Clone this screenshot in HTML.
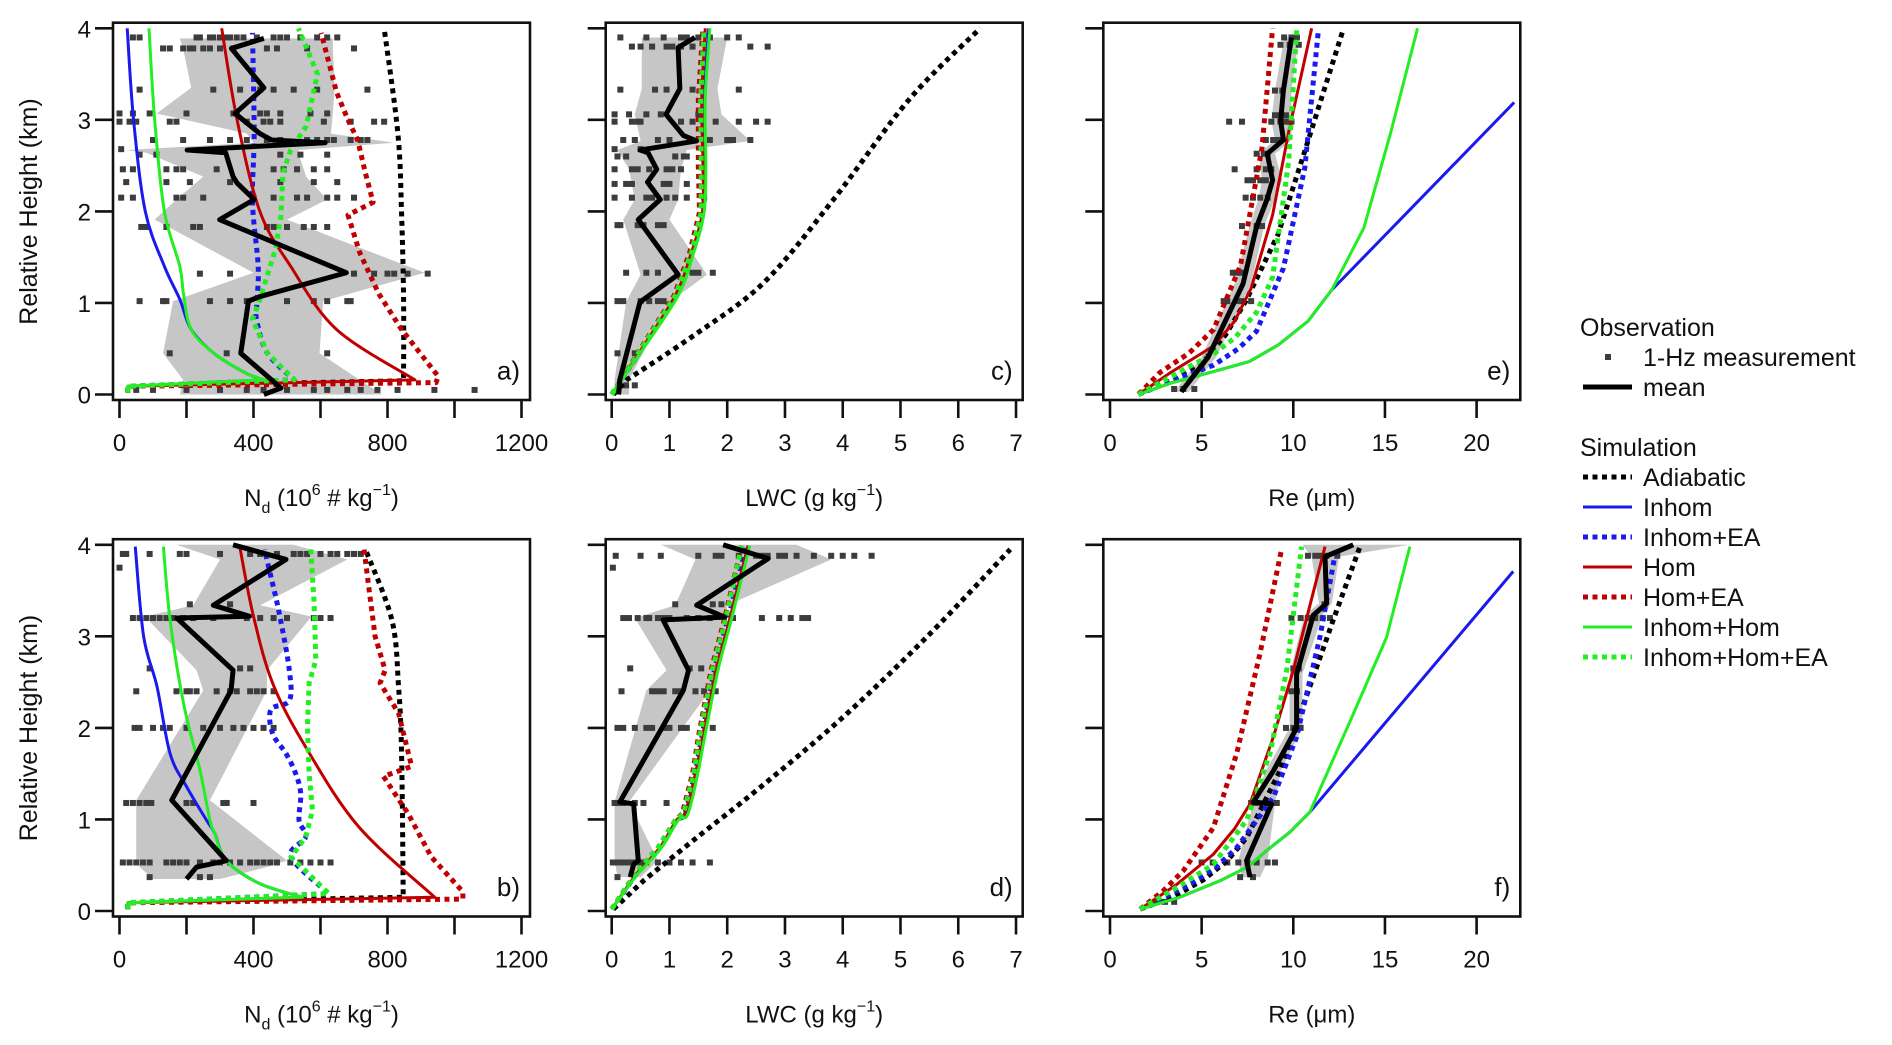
<!DOCTYPE html>
<html><head><meta charset="utf-8"><style>
html,body{margin:0;padding:0;background:#fff;}
svg{display:block;font-family:"Liberation Sans",Arial,sans-serif;}
</style></head><body>
<svg id="fig" width="1892" height="1045" viewBox="0 0 1892 1045" xmlns="http://www.w3.org/2000/svg"></svg>
<script>
// ---------- DATA (value, km) ----------
const aAdiabatic=[[25,0.02],[25,0.09],[848,0.15],[848,1.04],[842,1.98],[831,2.85],[790,4]];
const aInhom=[[25,0.02],[25,0.09],[431,0.16],[374,0.24],[282,0.45],[214,0.71],[180,1.04],[134,1.4],[77,2],[42,3],[23,4]];
const aInhomEA=[[25,0.02],[25,0.09],[522,0.16],[442,0.45],[410,0.8],[410,1.0],[414,1.4],[397,2.1],[402,2.85],[397,3.95]];
const aHom=[[25,0.02],[25,0.09],[882,0.16],[648,0.71],[511,1.4],[419,2],[351,3],[305,4]];
const aHomEA=[[25,0.02],[25,0.09],[945,0.13],[951,0.2],[842,0.71],[774,1.1],[717,1.55],[682,1.96],[757,2.1],[734,2.42],[711,2.78],[682,3],[648,3.3],[602,3.95]];
const aInhomHom=[[25,0.02],[25,0.09],[431,0.16],[374,0.24],[282,0.45],[214,0.71],[191,1.1],[180,1.4],[134,2],[105,3],[88,4]];
const aInhomHomEA=[[25,0.02],[25,0.09],[522,0.16],[442,0.45],[397,0.82],[419,1.04],[465,1.58],[482,1.95],[488,2.42],[511,2.67],[557,2.93],[591,3.5],[534,4]];
const aMean=[[431,0],[482,0.07],[454,0.16],[362,0.45],[385,1.02],[419,1.07],[677,1.33],[299,1.91],[402,2.13],[351,2.31],[339,2.38],[317,2.64],[202,2.67],[614,2.75],[454,2.78],[419,2.85],[345,3.07],[431,3.35],[334,3.78],[431,3.89]];
const aShadeKm=[0,0.16,0.45,1.02,1.33,1.91,2.13,2.38,2.64,2.67,2.75,2.85,3.07,3.35,3.78,3.89];
const aShadeLo=[180,190,130,160,400,105,170,250,80,20,400,380,111,214,190,180];
const aShadeHi=[785,717,597,608,911,500,620,557,534,534,819,631,637,642,637,637];
const aScatKm=[3.9,3.78,3.33,3.07,2.98,2.78,2.68,2.62,2.46,2.32,2.15,1.83,1.32,1.02,0.45,0.05];
const aScatVals=[[40,60,230,240,270,280,300,320,330,350,370,410,460,480,500,540,590,620,650],[130,150,190,210,220,250,270,300,340,440,470,560,700],[60,280,360,420,460,520,590,740],[0,40,90,200,340,350,420,440,480,570,620],[0,30,50,150,170,380,430,450,480,610,690,760,790],[100,190,270,330,380,440,480,560,590,620,640,690,720,740],[5],[60,110,480,540,620],[10,40,140,170,190,290,460,490,530,580,620],[20,140,210,330,480,580,650],[5,40,170,190,250,400,460,530,560,620,650,700],[65,80,140,220,240,440,460,500,550,580,620],[240,330,700,760,800,820,860,920],[60,130,140,270,330,380,500,580,620,680,690],[150,320,620],[50,100,200,300,380,430,500,580,620,680,720,770,830,940,1060]];

const bAdiabatic=[[25,0.02],[25,0.09],[847,0.15],[842,1.72],[833,2.45],[813,3.18],[734,3.95]];
const bInhom=[[25,0.02],[25,0.09],[546,0.15],[418,0.3],[319,0.55],[284,0.85],[260,0.99],[200,1.36],[151,1.72],[112,2.45],[72,3],[47,3.98]];
const bInhomEA=[[25,0.02],[25,0.09],[625,0.19],[512,0.59],[556,0.81],[536,0.99],[541,1.28],[526,1.5],[497,1.72],[457,1.94],[452,2.2],[507,2.3],[507,2.63],[477,3.25],[447,3.73],[433,3.95]];
const bHom=[[25,0.02],[25,0.09],[941,0.15],[714,0.92],[556,1.79],[457,2.49],[398,3.25],[359,3.98]];
const bHomEA=[[25,0.02],[25,0.09],[1025,0.13],[1025,0.21],[931,0.59],[862,1.06],[788,1.47],[872,1.58],[833,2.16],[778,2.49],[793,2.63],[763,3.0],[744,3.54],[729,3.98]];
const bInhomHom=[[25,0.02],[25,0.09],[546,0.15],[418,0.3],[319,0.55],[284,0.85],[270,0.99],[240,1.54],[191,2.27],[151,3.18],[131,3.98]];
const bInhomHomEA=[[25,0.02],[25,0.09],[625,0.19],[512,0.59],[556,0.81],[576,1.1],[566,1.5],[561,2.01],[566,2.49],[586,2.74],[581,3.36],[571,3.95]];
const bMean=[[200,0.35],[230,0.48],[319,0.55],[156,1.21],[333,2.41],[339,2.63],[171,3.2],[388,3.22],[280,3.34],[497,3.84],[339,4]];
const bShadeKm=[0.35,0.48,0.55,1.21,2.41,2.63,3.2,3.22,3.34,3.84,4];
const bShadeLo=[100,60,50,50,250,230,80,80,220,300,170];
const bShadeHi=[300,440,500,270,440,440,570,570,420,680,520];
const bScatKm=[3.9,3.75,3.35,3.2,2.65,2.4,2.0,1.18,0.53,0.37];
const bScatVals=[[10,20,90,180,200,300,390,420,470,520,540,560,600,630,650,680,700,720],[0],[210,330],[40,60,80,100,120,140,160,190,220,280,380,420,460,500,580,600,630],[90,360,390],[50,170,200,210,230,290,330,350,390,410,430,460],[45,60,100,130,150,200,250,300,340,370,400,430,460],[20,40,60,80,95,200,220,310,320,400],[10,30,50,70,90,140,160,180,200,240,280,300,330,360,390,410,430,450,470,510,540,570,600,630],[90,240,270]];

const cAdiabatic=[[0.03,0],[0.26,0.16],[1.41,0.64],[2.63,1.22],[3.84,2.13],[5.16,3.23],[6.38,4]];
const cInhom=[[0,0],[0.5,0.46],[1.13,1.08],[1.41,1.55],[1.59,1.99],[1.62,2.5],[1.6,3.23],[1.68,4]];
const cInhomEA=[[0,0],[0.48,0.46],[1.1,1.08],[1.38,1.55],[1.56,1.99],[1.58,2.5],[1.57,3.23],[1.64,4]];
const cHom=[[0,0],[0.48,0.46],[1.1,1.08],[1.38,1.55],[1.57,1.99],[1.58,2.5],[1.56,3.23],[1.62,4]];
const cHomEA=[[0,0],[0.46,0.46],[1.08,1.08],[1.35,1.55],[1.52,1.99],[1.5,2.5],[1.5,3.23],[1.58,4]];
const cInhomHom=[[0,0],[0.5,0.46],[1.15,1.08],[1.42,1.55],[1.6,1.99],[1.63,2.5],[1.62,3.23],[1.7,4]];
const cInhomHomEA=[[0,0],[0.47,0.46],[1.1,1.08],[1.38,1.55],[1.55,1.99],[1.55,2.5],[1.54,3.23],[1.6,4]];
const cMean=[[0.12,0],[0.14,0.16],[0.49,1.01],[1.15,1.31],[0.46,1.91],[0.84,2.13],[0.62,2.32],[0.78,2.46],[0.63,2.64],[0.49,2.67],[1.47,2.77],[1.24,2.83],[0.94,3.06],[1.18,3.34],[1.15,3.79],[1.44,3.9]];
const cShadeKm=[0,0.16,1.01,1.31,1.91,2.13,2.46,2.67,2.77,3.06,3.34,3.9];
const cShadeLo=[0.05,0.05,0.25,0.5,0.2,0.4,0.3,0.1,0.5,0.4,0.52,0.52];
const cShadeHi=[0.3,0.3,1.0,1.65,1.0,1.15,1.2,1.3,2.4,1.9,1.83,2.0];
const cScatKm=[3.9,3.8,3.33,3.06,2.98,2.78,2.68,2.6,2.46,2.3,2.15,1.85,1.33,1.02,0.45,0.1];
const cScatVals=[[0.15,0.6,0.9,1.2,1.3,1.5,1.7,2.0,2.2],[0.35,0.5,0.7,0.95,1.05,1.2,1.4,2.4,2.7],[0.15,0.75,0.95,1.4,2.2],[0.05,0.3,0.6,0.85,1.5],[0.05,0.35,0.45,0.5,1.2,1.4,1.8,2.2,2.5,2.7],[0.2,0.4,0.8,1.0,1.7,2.0,2.1,2.4],[0.05,0.5],[0.1,0.25,1.1,1.25,1.3],[0.05,0.35,0.45,0.65,0.95,1.05,1.2],[0.05,0.25,0.35,0.9,1.0,1.3],[0.05,0.35,0.6,0.7,0.95,1.1,1.3,1.6],[0.1,0.15,0.45,0.55,0.8,0.9],[0.25,0.6,0.8,1.4,1.5,1.75],[0.1,0.2,0.5,0.65,0.8,0.9],[0.1,0.4],[0.25,0.4]];

const dAdiabatic=[[0.03,0.02],[0.55,0.33],[1.41,0.77],[2.57,1.35],[4.01,2.12],[5.45,2.99],[6.9,3.95]];
const dInhom=[[0,0.02],[0.43,0.4],[0.84,0.69],[1.13,0.99],[1.3,1.06],[1.47,1.5],[1.59,1.9],[1.82,2.63],[2.05,3.18],[2.37,3.99]];
const dInhomEA=[[0,0.02],[0.42,0.4],[0.82,0.69],[1.11,0.99],[1.26,1.06],[1.44,1.5],[1.56,1.9],[1.78,2.63],[2.01,3.18],[2.33,3.99]];
const dHom=[[0,0.02],[0.42,0.4],[0.83,0.69],[1.12,0.99],[1.26,1.06],[1.45,1.5],[1.57,1.9],[1.8,2.63],[2.04,3.18],[2.36,3.99]];
const dHomEA=[[0,0.02],[0.4,0.4],[0.8,0.69],[1.1,0.99],[1.22,1.06],[1.4,1.5],[1.5,1.9],[1.72,2.63],[1.95,3.18],[2.25,3.99]];
const dInhomHom=[[0,0.02],[0.44,0.4],[0.86,0.69],[1.15,0.99],[1.32,1.06],[1.49,1.5],[1.61,1.9],[1.84,2.63],[2.07,3.18],[2.39,3.99]];
const dInhomHomEA=[[0,0.02],[0.4,0.4],[0.8,0.69],[1.1,0.99],[1.24,1.06],[1.42,1.5],[1.52,1.9],[1.74,2.63],[1.97,3.18],[2.25,3.99]];
const dMean=[[0.32,0.37],[0.38,0.51],[0.46,0.55],[0.38,1.17],[0.14,1.19],[1.24,2.41],[1.33,2.63],[0.89,3.18],[1.96,3.21],[1.47,3.34],[2.71,3.85],[1.93,4]];
const dShadeKm=[0.37,0.55,1.19,2.41,2.63,3.2,3.34,3.84,4];
const dShadeLo=[0.1,0.05,0.05,0.6,0.95,0.4,1.1,1.45,0.85];
const dShadeHi=[0.5,0.8,0.3,1.7,1.8,2.0,2.0,3.8,3.2];
const dScatKm=[3.88,3.75,3.35,3.2,2.65,2.4,2.0,1.18,0.53,0.37];
const dScatVals=[[0.07,0.5,0.85,1.5,1.8,1.9,2.2,2.5,2.6,2.7,2.9,3.0,3.2,3.5,3.8,4.0,4.2,4.5],[0.02],[1.1,1.75,1.9],[0.2,0.3,0.45,0.6,0.65,0.8,0.9,1.0,1.3,1.5,1.7,2.1,2.6,2.9,3.1,3.3,3.4],[0.32,1.35,1.55],[0.17,0.7,0.8,0.9,1.1,1.2,1.45,1.6,1.8],[0.1,0.2,0.4,0.6,0.7,0.9,1.0,1.2,1.3,1.75],[0.05,0.15,0.2,0.4,0.55,0.95],[0.02,0.1,0.2,0.3,0.4,0.5,0.6,0.8,1.0,1.2,1.4,1.7],[0.1]];

const eAdiabatic=[[1.55,0.01],[3.3,0.15],[5.07,0.36],[6.3,0.65],[7.41,1.02],[9.17,1.75],[10.63,2.66],[12.68,3.96]];
const eInhom=[[1.55,0],[3.4,0.13],[5.65,0.25],[7.6,0.36],[9.17,0.54],[10.8,0.8],[12.09,1.14],[22.05,3.19]];
const eInhomEA=[[1.55,0],[3.5,0.16],[5.65,0.32],[7.0,0.5],[7.99,0.69],[9.46,1.38],[10.63,2.48],[11.36,3.96]];
const eHom=[[1.55,0],[3.31,0.24],[5.65,0.53],[6.8,0.8],[7.7,1.16],[8.87,1.96],[9.75,2.87],[11.0,4]];
const eHomEA=[[1.55,0],[2.72,0.24],[4.3,0.45],[5.65,0.71],[7.12,1.41],[8.29,2.69],[8.87,4]];
const eInhomHom=[[1.55,0],[3.4,0.13],[5.65,0.25],[7.6,0.36],[9.17,0.54],[10.8,0.8],[12.09,1.14],[13.85,1.82],[15.3,2.85],[16.78,4]];
const eInhomHomEA=[[1.55,0],[4.19,0.29],[5.7,0.45],[6.82,0.62],[8.0,0.9],[8.87,1.28],[9.75,2.55],[10.19,4]];
const eMean=[[3.89,0.03],[5.36,0.41],[7.26,1.21],[7.99,1.83],[8.58,2.14],[8.87,2.34],[8.58,2.63],[9.46,2.78],[9.31,2.99],[9.46,3.32],[9.9,3.9]];
const eShadeKm=[0.03,0.41,1.21,1.83,2.14,2.34,2.63,2.78,2.99,3.32,3.9];
const eShadeLo=[3.5,5.0,6.8,7.6,8.1,8.3,8.1,9.0,8.8,9.0,9.5];
const eShadeHi=[4.3,5.8,7.7,8.4,9.0,9.4,9.0,9.9,9.9,9.9,10.3];
const eScatKm=[3.9,3.82,3.32,3.05,2.98,2.78,2.63,2.46,2.34,2.15,1.84,1.33,1.02,0.06];
const eScatVals=[[9.5,9.9,10.2],[9.3,9.8,10.3],[9.0,9.4],[9.0,9.3,9.6],[6.5,7.2,8.8,9.3,9.6,9.9],[8.5,8.9,9.2],[8.0,8.4,8.6],[6.8,8.0,8.5,8.8],[7.5,7.8,8.2,8.5],[7.4,7.8,8.2,8.6],[7.2,8.0,8.3],[6.7,6.9,7.2],[6.2,6.4,6.9,7.2,7.7],[3.5,4.0,4.6]];

const fAdiabatic=[[1.64,0.02],[3.4,0.15],[5.09,0.34],[6.4,0.55],[7.45,0.8],[9.27,1.53],[10.9,2.45],[12.18,3.18],[13.64,3.98]];
const fInhom=[[1.64,0.02],[3.8,0.15],[6.0,0.33],[7.5,0.48],[8.55,0.66],[9.8,0.86],[10.9,1.08],[22.0,3.71]];
const fInhomEA=[[1.64,0.02],[4.36,0.29],[5.8,0.48],[6.91,0.69],[8.91,1.24],[10.18,1.9],[11.45,2.99],[12.36,3.98]];
const fHom=[[1.64,0.02],[3.64,0.29],[5.64,0.62],[6.8,0.9],[7.64,1.17],[8.91,1.9],[10.0,2.63],[11.73,3.98]];
const fHomEA=[[1.64,0.02],[2.9,0.22],[4.0,0.44],[5.64,0.91],[6.91,1.72],[8.18,2.81],[9.36,3.95]];
const fInhomHom=[[1.64,0.02],[3.8,0.15],[6.0,0.33],[7.5,0.48],[8.55,0.66],[9.8,0.86],[10.9,1.08],[13.27,2.15],[15.09,2.99],[16.36,3.98]];
const fInhomHomEA=[[1.64,0.02],[4.0,0.3],[5.64,0.51],[7.45,0.99],[8.73,1.72],[9.64,2.63],[10.45,3.98]];
const fMean=[[7.64,0.37],[7.45,0.55],[8.82,1.17],[7.82,1.19],[8.91,1.53],[10.18,2.0],[10.18,2.59],[11.09,3.23],[11.82,3.36],[11.73,3.87],[13.27,4]];
const fShadeKm=[0.37,0.55,1.17,1.53,2.0,2.59,3.23,3.36,3.87,4];
const fShadeLo=[7.2,7.0,7.8,8.5,9.8,9.8,10.6,11.4,11.0,10.5];
const fShadeHi=[8.2,8.6,9.0,9.3,10.5,10.5,11.6,12.1,12.5,16.3];
const fScatKm=[3.88,3.35,3.2,2.65,2.4,2.0,1.18,0.53,0.37,0.1];
const fScatVals=[[10.8,11.2,11.5,11.8,12.4],[11.7],[9.9,10.4,10.8,11.2,11.6,12.0],[10.0,10.3],[9.9,10.2],[9.6,10.0,10.4],[7.7,8.0,8.6,9.1],[5.0,5.6,6.4,7.0,7.5,8.0,8.6,9.0],[7.1,7.8],[2.5,3.0,3.5]];

const ndTicks=[0,200,400,600,800,1000,1200];
const ndLabels=["0","","400","","800","","1200"];
const lwcTicks=[0,1,2,3,4,5,6,7];
const lwcLabels=["0","1","2","3","4","5","6","7"];
const reTicks=[0,5,10,15,20];
const reLabels=["0","5","10","15","20"];
const yTicks=[0,1,2,3,4];
const yLabels=["0","1","2","3","4"];

// ---------- DRAWING ----------
const NS="http://www.w3.org/2000/svg";
const svg=document.getElementById('fig');
function mk(tag,attrs,parent){const e=document.createElementNS(NS,tag);for(const k in attrs)e.setAttribute(k,attrs[k]);(parent||svg).appendChild(e);return e;}
const COL={adi:"#000",inh:"#1a1aee",hom:"#c00000",ih:"#22ee22"};
const SOLID=3, DOT=5;

function smoothPath(P){
  if(P.length<3)return 'M'+P.map(p=>p[0]+','+p[1]).join(' L');
  let d='M'+P[0][0]+','+P[0][1];
  for(let i=0;i<P.length-1;i++){
    const p0=P[i-1]||P[i],p1=P[i],p2=P[i+1],p3=P[i+2]||p2;
    const c1=[p1[0]+(p2[0]-p0[0])/6,p1[1]+(p2[1]-p0[1])/6];
    const c2=[p2[0]-(p3[0]-p1[0])/6,p2[1]-(p3[1]-p1[1])/6];
    d+=' C'+c1[0]+','+c1[1]+' '+c2[0]+','+c2[1]+' '+p2[0]+','+p2[1];
  }
  return d;
}

function panel(id,frameLeft,rowY0,x0,k,xmax,S,xTicks,xLabels,showY,xTitle,tag,smoothOK){
  const W=417, kmPx=91.55;
  const X=v=>x0+v*k, Y=h=>rowY0-h*kmPx;
  const top=Y(4)-5.6, bot=rowY0+5.5;
  const g=mk('g',{});
  
  
  const cp=mk('clipPath',{id:'clip'+id},g);
  mk('rect',{x:frameLeft,y:top,width:W,height:bot-top},cp);
  const plot=mk('g',{'clip-path':'url(#clip'+id+')'},g);
  let pts=[];
  S.shadeKm.forEach((h,i)=>pts.push(X(S.shadeLo[i])+','+Y(h)));
  for(let i=S.shadeKm.length-1;i>=0;i--)pts.push(X(S.shadeHi[i])+','+Y(S.shadeKm[i]));
  const sh=mk('polygon',{points:pts.join(' '),fill:'#c6c6c6'},plot);
  
  
  const sg=mk('g',{fill:'#3c3c3c'},plot);
  
  
  S.scatKm.forEach((h,i)=>S.scatVals[i].forEach(v=>{
    const r=mk('rect',{x:X(v)-3,y:Y(h)-3,width:6,height:6},sg);
    
    
  }));
  const line=(arr,col,dash,w,name,smooth)=>{
    const P=arr.map(d=>[X(d[0]),Y(d[1])]);
    let p;
    if(smooth&&smoothOK){
      let start=0;
      for(let i=1;i<arr.length;i++){if(arr[i][1]<0.1)start=i;}
      let dstr='M'+P.slice(0,start+1).map(q=>q[0]+','+q[1]).join(' L');
      dstr+=' '+smoothPath(P.slice(start+1)).replace('M','L');
      p=mk('path',{d:dstr,fill:'none',stroke:col,'stroke-width':w,'stroke-linejoin':'round'},plot);
    } else {
      p=mk('polyline',{points:P.map(q=>q[0]+','+q[1]).join(' '),fill:'none',stroke:col,'stroke-width':w,'stroke-linejoin':'round'},plot);
    }
    if(dash)p.setAttribute('stroke-dasharray',dash);
    
    
  };
  line(S.adi,COL.adi,'5 4.5',DOT,'adiabatic-line',true);
  line(S.inh,COL.inh,null,SOLID,'inhom-line',true);
  line(S.inhEA,COL.inh,'5 4.5',DOT,'inhom-ea-line',true);
  line(S.hom,COL.hom,null,SOLID,'hom-line',true);
  line(S.homEA,COL.hom,'5 4.5',DOT,'hom-ea-line',false);
  line(S.ih,COL.ih,null,SOLID,'inhom-hom-line',true);
  line(S.ihEA,COL.ih,'5 4.5',DOT,'inhom-hom-ea-line',false);
  line(S.mean,'#000',null,5,'mean-line',false);
  const fr=mk('rect',{x:frameLeft,y:top,width:W,height:bot-top,fill:'none',stroke:'#111','stroke-width':2.6},g);
  
  
  xTicks.forEach((t,i)=>{
    mk('line',{x1:X(t),x2:X(t),y1:bot,y2:bot+18,stroke:'#111','stroke-width':2.6},g);
    if(xLabels[i]){const tx=mk('text',{x:X(t),y:bot+51,'font-size':24,'text-anchor':'middle',fill:'#111'},g);tx.textContent=xLabels[i];
      }
  });
  yTicks.forEach((t,i)=>{
    mk('line',{x1:frameLeft-18,x2:frameLeft,y1:Y(t),y2:Y(t),stroke:'#111','stroke-width':2.6},g);
    if(showY){const ty=mk('text',{x:frameLeft-22,y:Y(t)+9,'font-size':24,'text-anchor':'end',fill:'#111'},g);ty.textContent=yLabels[i];
      }
  });
  const pt=mk('text',{x:frameLeft+W-10,y:rowY0-15,'font-size':26,'text-anchor':'end',fill:'#111'},g);
  pt.textContent=tag;
  
  
  const xt=mk('text',{x:frameLeft+W/2,y:bot+106,'font-size':24,'text-anchor':'middle',fill:'#111'},g);
  xt.innerHTML=xTitle;
  
  
  if(showY){
    const yt=mk('text',{x:0,y:0,'font-size':25,'text-anchor':'middle',fill:'#111',transform:'translate(37,'+(rowY0-183)+') rotate(-90)'},g);
    yt.textContent='Relative Height (km)';
    
    
  }
}
const ndT='N<tspan font-size="16" dy="7">d</tspan><tspan dy="-7"> (10</tspan><tspan font-size="16" dy="-11">6</tspan><tspan dy="11"> # kg</tspan><tspan font-size="16" dy="-11">−1</tspan><tspan dy="11">)</tspan>';
const lwcT='LWC (g kg<tspan font-size="16" dy="-11">−1</tspan><tspan dy="11">)</tspan>';
const reT='Re (μm)';
const R1=394.5,R2=911;
panel('a',113,R1,119.5,0.335,1200,{adi:aAdiabatic,inh:aInhom,inhEA:aInhomEA,hom:aHom,homEA:aHomEA,ih:aInhomHom,ihEA:aInhomHomEA,mean:aMean,shadeKm:aShadeKm,shadeLo:aShadeLo,shadeHi:aShadeHi,scatKm:aScatKm,scatVals:aScatVals},ndTicks,ndLabels,true,ndT,'a)',true);
panel('b',113,R2,119.5,0.335,1200,{adi:bAdiabatic,inh:bInhom,inhEA:bInhomEA,hom:bHom,homEA:bHomEA,ih:bInhomHom,ihEA:bInhomHomEA,mean:bMean,shadeKm:bShadeKm,shadeLo:bShadeLo,shadeHi:bShadeHi,scatKm:bScatKm,scatVals:bScatVals},ndTicks,ndLabels,true,ndT,'b)',true);
panel('c',605.7,R1,611.7,57.76,7,{adi:cAdiabatic,inh:cInhom,inhEA:cInhomEA,hom:cHom,homEA:cHomEA,ih:cInhomHom,ihEA:cInhomHomEA,mean:cMean,shadeKm:cShadeKm,shadeLo:cShadeLo,shadeHi:cShadeHi,scatKm:cScatKm,scatVals:cScatVals},lwcTicks,lwcLabels,false,lwcT,'c)',true);
panel('d',605.7,R2,611.7,57.76,7,{adi:dAdiabatic,inh:dInhom,inhEA:dInhomEA,hom:dHom,homEA:dHomEA,ih:dInhomHom,ihEA:dInhomHomEA,mean:dMean,shadeKm:dShadeKm,shadeLo:dShadeLo,shadeHi:dShadeHi,scatKm:dScatKm,scatVals:dScatVals},lwcTicks,lwcLabels,false,lwcT,'d)',true);
panel('e',1103.3,R1,1110,18.33,22,{adi:eAdiabatic,inh:eInhom,inhEA:eInhomEA,hom:eHom,homEA:eHomEA,ih:eInhomHom,ihEA:eInhomHomEA,mean:eMean,shadeKm:eShadeKm,shadeLo:eShadeLo,shadeHi:eShadeHi,scatKm:eScatKm,scatVals:eScatVals},reTicks,reLabels,false,reT,'e)',false);
panel('f',1103.3,R2,1110,18.33,22,{adi:fAdiabatic,inh:fInhom,inhEA:fInhomEA,hom:fHom,homEA:fHomEA,ih:fInhomHom,ihEA:fInhomHomEA,mean:fMean,shadeKm:fShadeKm,shadeLo:fShadeLo,shadeHi:fShadeHi,scatKm:fScatKm,scatVals:fScatVals},reTicks,reLabels,false,reT,'f)',false);
</script>
<div style="position:absolute;left:0;top:0;width:1892px;height:1045px;pointer-events:none;">
<svg width="1892" height="1045" viewBox="0 0 1892 1045" style="font-family:'Liberation Sans',Arial,sans-serif">
  <text x="1580" y="336" font-size="25" fill="#111">Observation</text>
  <rect x="1605" y="354" width="6" height="6" fill="#3c3c3c"/>
  <text x="1643" y="366" font-size="25" fill="#111">1-Hz measurement</text>
  <line x1="1583" y1="387" x2="1632" y2="387" stroke="#000" stroke-width="5"/>
  <text x="1643" y="396" font-size="25" fill="#111">mean</text>
  <text x="1580" y="456" font-size="25" fill="#111">Simulation</text>
  <line x1="1583" y1="477" x2="1632" y2="477" stroke="#000" stroke-width="5" stroke-dasharray="5 4.5"/>
  <text x="1643" y="486" font-size="25" fill="#111">Adiabatic</text>
  <line x1="1583" y1="507" x2="1632" y2="507" stroke="#1a1aee" stroke-width="3"/>
  <text x="1643" y="516" font-size="25" fill="#111">Inhom</text>
  <line x1="1583" y1="537" x2="1632" y2="537" stroke="#1a1aee" stroke-width="5" stroke-dasharray="5 4.5"/>
  <text x="1643" y="546" font-size="25" fill="#111">Inhom+EA</text>
  <line x1="1583" y1="567" x2="1632" y2="567" stroke="#c00000" stroke-width="3"/>
  <text x="1643" y="576" font-size="25" fill="#111">Hom</text>
  <line x1="1583" y1="597" x2="1632" y2="597" stroke="#c00000" stroke-width="5" stroke-dasharray="5 4.5"/>
  <text x="1643" y="606" font-size="25" fill="#111">Hom+EA</text>
  <line x1="1583" y1="627" x2="1632" y2="627" stroke="#22ee22" stroke-width="3"/>
  <text x="1643" y="636" font-size="25" fill="#111">Inhom+Hom</text>
  <line x1="1583" y1="657" x2="1632" y2="657" stroke="#22ee22" stroke-width="5" stroke-dasharray="5 4.5"/>
  <text x="1643" y="666" font-size="25" fill="#111">Inhom+Hom+EA</text>
</svg>
</div>
</body></html>
